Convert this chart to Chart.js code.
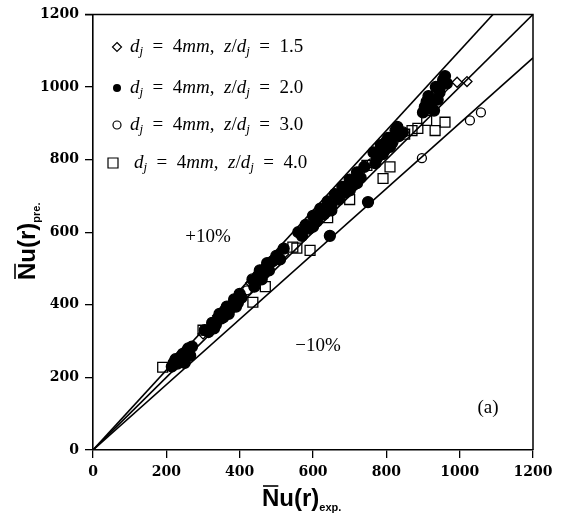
<!DOCTYPE html>
<html lang="en">
<head>
<meta charset="UTF-8">
<title>Nu(r) predicted vs experimental</title>
<script src="https://cdn.jsdelivr.net/npm/chart.js"></script>
<style>
   body { margin: 0; background: #fff; }
   canvas { display: block; }
</style>
</head>
<body>
<canvas id="nuChart" width="563" height="519"></canvas>
<script>
   // z/dj = 1.5 (open diamonds)
   var diaX = [230, 300, 340, 380, 430, 470, 520, 570, 620, 660, 700, 740, 790, 830, 930, 960, 993, 1020];
   var diaY = [250, 320, 370, 400, 460, 500, 540, 600, 650, 690, 735, 780, 830, 870, 980, 1000, 1013, 1015];
   // z/dj = 2.0 (filled circles)
   var dotX = [215, 225, 235, 245, 255, 265, 240, 250, 270, 230, 260, 220,
      305, 315, 325, 335, 345, 355, 365, 375, 385, 395, 405, 340, 360, 380, 400, 330, 370, 390,
      435, 445, 455, 465, 475, 440, 460, 490, 500, 510, 520, 480, 450, 470,
      560, 570, 580, 590, 600, 610, 620, 630, 640, 650, 660, 670, 680, 690, 700, 710, 720, 730, 600, 650, 700, 646, 750, 740, 720,
      765, 775, 785, 795, 805, 815, 825, 835, 790, 810, 830, 845, 770, 800,
      905, 915, 925, 935, 945, 955, 965, 920, 940, 950, 960, 930, 910, 900];
   var dotY = [230, 250, 245, 265, 272, 260, 258, 240, 285, 238, 280, 240,
      330, 325, 350, 345, 375, 365, 395, 390, 415, 405, 420, 360, 385, 400, 430, 335, 375, 395,
      470, 465, 495, 485, 515, 450, 470, 520, 535, 525, 555, 495, 480, 500,
      600, 590, 620, 610, 645, 630, 665, 650, 685, 670, 705, 690, 725, 710, 745, 730, 765, 750, 615, 660, 715, 590, 683, 780, 735,
      820, 805, 840, 825, 860, 845, 880, 865, 815, 835, 890, 875, 790, 850,
      945, 975, 960, 1000, 985, 1020, 1010, 945, 965, 1005, 1030, 935, 960, 930];
   // z/dj = 3.0 (open circles)
   var cirX = [250, 350, 420, 600, 680, 760, 820, 897, 1028, 1058];
   var cirY = [255, 360, 440, 620, 700, 790, 850, 804, 908, 930];
   // z/dj = 4.0 (open squares)
   var sqX = [190, 300, 436, 470, 545, 556, 592, 640, 700, 747, 791, 810, 850, 870, 886, 910, 933, 960];
   var sqY = [228, 330, 407, 450, 559, 556, 550, 640, 690, 784, 748, 780, 870, 880, 886, 908, 880, 903];

   var axisTicks = [0, 200, 400, 600, 800, 1000, 1200];
   var bandFactors = [1.1, 1.0, 0.9];

   function pts(xs, ys) {
      return xs.map(function (x, i) { return { x: x, y: ys[i] }; });
   }

   var lineSets = bandFactors.map(function (f) {
      return {
         type: "line",
         data: [{ x: 0, y: 0 }, { x: 1200, y: 1200 * f }],
         borderColor: "#000",
         borderWidth: 1.6,
         pointRadius: 0,
         fill: false
      };
   });

   function scatter(data, style, radius, filled) {
      return {
         type: "scatter",
         data: data,
         pointStyle: style,
         pointRadius: radius,
         borderColor: "#000",
         borderWidth: 1.3,
         backgroundColor: filled ? "#000" : "rgba(0,0,0,0)"
      };
   }

   var tickFont = { family: "DejaVu Serif", weight: "bold", size: 14 };

   function drawRich(ctx, x, y, parts) {
      // parts: [text, font, dy]
      parts.forEach(function (p) {
         ctx.font = p[1];
         ctx.fillText(p[0], x, y + (p[2] || 0));
         x += ctx.measureText(p[0]).width;
      });
      return x;
   }

   var overlay = {
      id: "overlay",
      afterDraw: function (chart) {
         var ctx = chart.ctx;
         var a = chart.chartArea;
         ctx.save();
         ctx.strokeStyle = "#000";
         ctx.fillStyle = "#000";
         ctx.lineWidth = 1.5;
         ctx.beginPath();
         ctx.moveTo(a.left - 8, a.top);
         ctx.lineTo(a.right, a.top);
         ctx.lineTo(a.right, a.bottom);
         ctx.stroke();

         // axis titles
         var big = "bold 24px 'Liberation Sans'";
         var small = "bold 11px 'Liberation Sans'";
         ctx.textBaseline = "alphabetic";
         ctx.textAlign = "left";
         function title(sub) {
            ctx.font = big;
            var nw = ctx.measureText("N").width;
            ctx.lineWidth = 1.6;
            ctx.beginPath();
            ctx.moveTo(1, -20);
            ctx.lineTo(nw - 1, -20);
            ctx.stroke();
            drawRich(ctx, 0, 0, [["Nu(r)", big, 0], [sub, small, 5]]);
         }
         ctx.save();
         ctx.translate(262, 506);
         title("exp.");
         ctx.restore();
         ctx.save();
         ctx.translate(35, 280);
         ctx.rotate(-Math.PI / 2);
         title("pre.");
         ctx.restore();

         // band labels
         ctx.font = "19px 'Liberation Serif'";
         ctx.textAlign = "center";
         ctx.textBaseline = "middle";
         ctx.fillText("+10%", 208, 237);
         ctx.fillText("\u221210%", 318, 346);
         ctx.fillText("(a)", 488, 408);

         // legend
         ctx.textAlign = "left";
         ctx.textBaseline = "alphabetic";
         var it = "italic 19px 'Liberation Serif'";
         var rm = "19px 'Liberation Serif'";
         var sb = "italic 13px 'Liberation Serif'";
         var rows = [["1.5", 47], ["2.0", 88], ["3.0", 125], ["4.0", 163]];
         rows.forEach(function (r, i) {
            var y = r[1];
            ctx.lineWidth = 1.2;
            ctx.beginPath();
            if (i === 0) {
               ctx.moveTo(117, y - 4.5); ctx.lineTo(121.5, y); ctx.lineTo(117, y + 4.5); ctx.lineTo(112.5, y); ctx.closePath();
               ctx.stroke();
            } else if (i === 1) {
               ctx.arc(117, y, 4, 0, Math.PI * 2); ctx.fill();
            } else if (i === 2) {
               ctx.arc(117, y, 4, 0, Math.PI * 2); ctx.stroke();
            } else {
               ctx.rect(108, y - 5, 10, 10); ctx.stroke();
            }
            var x0 = i === 3 ? 134 : 130;
            drawRich(ctx, x0, y + 5, [
               ["d", it, 0], ["j", sb, 3], ["  =  4", rm, 0], ["mm", it, 0], [",  ", rm, 0],
               ["z", it, 0], ["/", rm, 0], ["d", it, 0], ["j", sb, 3], ["  =  " + r[0], rm, 0]
            ]);
         });
         ctx.restore();
      }
   };

   var axisOpts = function (fit) {
      return {
         type: "linear",
         min: axisTicks[0],
         max: axisTicks[axisTicks.length - 1],
         afterBuildTicks: function (s) {
            s.ticks = axisTicks.map(function (v) { return { value: v }; });
         },
         ticks: {
            font: tickFont, color: "#000", padding: 6,
            callback: function (v) { return String(v); }
         },
         grid: { drawOnChartArea: false, tickLength: 8, color: "#000", lineWidth: 1.3 },
         border: { color: "#000", width: 1.6 },
         afterFit: fit
      };
   };

   new Chart(document.getElementById("nuChart"), {
      type: "scatter",
      data: {
         datasets: lineSets.concat([
            scatter(pts(dotX, dotY), "circle", 5.5, true),
            scatter(pts(sqX, sqY), "rect", 7, false),
            scatter(pts(cirX, cirY), "circle", 4.5, false),
            scatter(pts(diaX, diaY), "rectRot", 5, false)
         ])
      },
      options: {
         responsive: false,
         animation: false,
         layout: { padding: { top: 14, right: 30, left: 0, bottom: 0 } },
         plugins: { legend: { display: false }, tooltip: { enabled: false } },
         scales: {
            x: axisOpts(function (s) { s.height = 69; }),
            y: axisOpts(function (s) { s.width = 93; })
         }
      },
      plugins: [overlay]
   });
</script>
</body>
</html>
